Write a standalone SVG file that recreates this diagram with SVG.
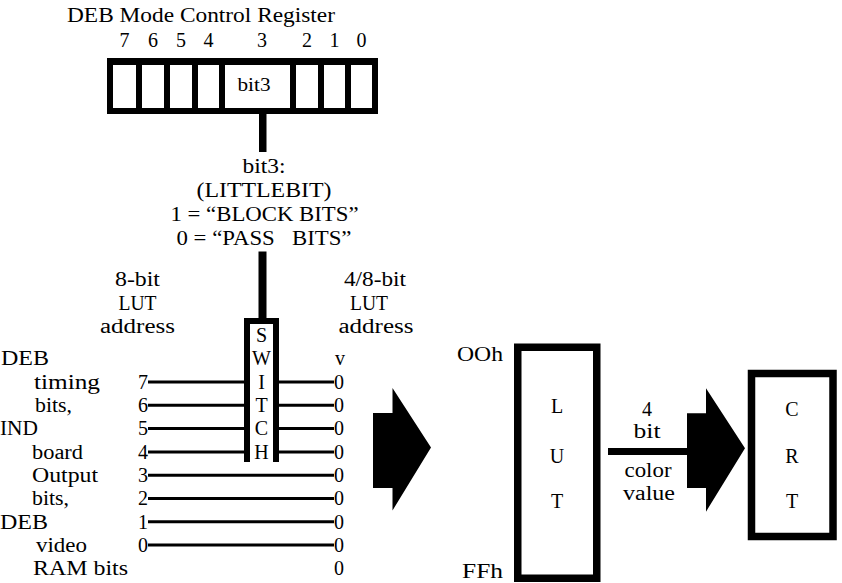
<svg xmlns="http://www.w3.org/2000/svg" width="842" height="583" viewBox="0 0 842 583">
<style>
text{font-family:"Liberation Serif","Times New Roman",serif;font-size:20px;fill:#000}
.c{text-anchor:middle}
.e{text-anchor:end}
.sm{font-size:18px}
.big{font-size:21px}
.pre{white-space:pre}
.wire{stroke:#000;stroke-width:3;fill:none}
.thick{stroke:#000;fill:none}
.box{fill:#fff;stroke:#000;stroke-width:7.5}
</style>
<rect width="842" height="583" fill="#fff"/>

<g id="register">
  <text x="67" y="22" textLength="268" lengthAdjust="spacingAndGlyphs">DEB Mode Control Register</text>
  <g class="c">
    <text x="124.5" y="47">7</text>
    <text x="153" y="47">6</text>
    <text x="181" y="47">5</text>
    <text x="208.5" y="47">4</text>
    <text x="262" y="47">3</text>
    <text x="307" y="47">2</text>
    <text x="334.5" y="47">1</text>
    <text x="361.5" y="47">0</text>
  </g>
  <rect x="107" y="58" width="271" height="56" fill="#000"/>
  <g fill="#fff">
    <rect x="113" y="65" width="23" height="43"/>
    <rect x="142" y="65" width="22" height="43"/>
    <rect x="170" y="65" width="22" height="43"/>
    <rect x="198" y="65" width="21" height="43"/>
    <rect x="225" y="65" width="65" height="43"/>
    <rect x="296" y="65" width="22" height="43"/>
    <rect x="324" y="65" width="21" height="43"/>
    <rect x="351" y="65" width="21" height="43"/>
  </g>
  <text class="c sm" x="254" y="91" textLength="33" lengthAdjust="spacingAndGlyphs">bit3</text>
</g>

<g id="bit3-label">
  <text class="c" x="264" y="173" textLength="43" lengthAdjust="spacingAndGlyphs">bit3:</text>
  <text class="c" x="264" y="197" textLength="135" lengthAdjust="spacingAndGlyphs">(LITTLEBIT)</text>
  <text class="c pre" x="264.5" y="221" textLength="188" lengthAdjust="spacingAndGlyphs">1 = “BLOCK BITS”</text>
  <text class="c pre" x="264" y="245" textLength="175" lengthAdjust="spacingAndGlyphs">0 = “PASS   BITS”</text>
</g>

<g id="switch">
  <path class="thick" stroke-width="6" d="M247,462 V321 H276 V462"/>
  <g class="c big">
    <text x="261.5" y="342">S</text>
    <text x="261.5" y="365">W</text>
    <text x="261.5" y="388.5">I</text>
    <text x="261.5" y="412">T</text>
    <text x="261.5" y="435">C</text>
    <text x="261.5" y="458.5">H</text>
  </g>
</g>

<g id="in-labels">
  <text class="c" x="137.5" y="286" textLength="45" lengthAdjust="spacingAndGlyphs">8-bit</text>
  <text class="c" x="137.5" y="310" textLength="38" lengthAdjust="spacingAndGlyphs">LUT</text>
  <text class="c" x="137.5" y="333" textLength="75" lengthAdjust="spacingAndGlyphs">address</text>
  <text x="1" y="365" textLength="48" lengthAdjust="spacingAndGlyphs">DEB</text>
  <text x="34" y="388.5" textLength="66" lengthAdjust="spacingAndGlyphs">timing</text>
  <text x="35" y="412" textLength="37" lengthAdjust="spacingAndGlyphs">bits,</text>
  <text x="0" y="435" textLength="38" lengthAdjust="spacingAndGlyphs">IND</text>
  <text x="32" y="458.5" textLength="51" lengthAdjust="spacingAndGlyphs">board</text>
  <text x="32" y="482" textLength="66" lengthAdjust="spacingAndGlyphs">Output</text>
  <text x="32" y="505" textLength="37" lengthAdjust="spacingAndGlyphs">bits,</text>
  <text x="0" y="528.5" textLength="48" lengthAdjust="spacingAndGlyphs">DEB</text>
  <text x="36" y="552" textLength="51" lengthAdjust="spacingAndGlyphs">video</text>
  <text x="33" y="575" textLength="95" lengthAdjust="spacingAndGlyphs">RAM bits</text>
  <g class="e">
    <text x="148" y="388.5">7</text>
    <text x="148" y="412">6</text>
    <text x="148" y="435">5</text>
    <text x="148" y="458.5">4</text>
    <text x="148" y="482">3</text>
    <text x="148" y="505">2</text>
    <text x="148" y="528.5">1</text>
    <text x="148" y="552">0</text>
  </g>
</g>

<g id="out-labels">
  <text class="c" x="375" y="286" textLength="62" lengthAdjust="spacingAndGlyphs">4/8-bit</text>
  <text class="c" x="369" y="310" textLength="38" lengthAdjust="spacingAndGlyphs">LUT</text>
  <text class="c" x="376" y="333" textLength="75" lengthAdjust="spacingAndGlyphs">address</text>
  <text x="335" y="365">v</text>
  <text x="334" y="388.5">0</text>
  <text x="334" y="412">0</text>
  <text x="334" y="435">0</text>
  <text x="334" y="458.5">0</text>
  <text x="334" y="482">0</text>
  <text x="334" y="505">0</text>
  <text x="334" y="528.5">0</text>
  <text x="334" y="552">0</text>
  <text x="334" y="575">0</text>
</g>

<g id="lut">
  <rect class="box" x="517.75" y="347.25" width="79" height="231"/>
  <text class="e" x="503" y="361" textLength="46" lengthAdjust="spacingAndGlyphs">OOh</text>
  <text class="e" x="503" y="578" textLength="41" lengthAdjust="spacingAndGlyphs">FFh</text>
  <g class="c big">
    <text x="557" y="413">L</text>
    <text x="557" y="463">U</text>
    <text x="557" y="508">T</text>
  </g>
</g>

<g id="crt">
  <rect class="box" x="751.5" y="373.5" width="81.5" height="163" stroke-width="7"/>
  <g class="c big">
    <text x="792" y="416">C</text>
    <text x="792" y="463">R</text>
    <text x="792" y="508">T</text>
  </g>
</g>

<g id="connectors">
  <rect x="259" y="113" width="7.5" height="39" fill="#000"/>
  <rect x="258.5" y="251.5" width="8" height="67" fill="#000"/>
  <g class="wire">
    <path d="M148,382 H244 M279,382 H334"/>
    <path d="M148,405.3 H244 M279,405.3 H334"/>
    <path d="M148,428.6 H244 M279,428.6 H334"/>
    <path d="M148,451.9 H244 M279,451.9 H334"/>
    <path d="M148,475.2 H334"/>
    <path d="M148,498.5 H334"/>
    <path d="M148,521.8 H334"/>
    <path d="M148,545.1 H334"/>
  </g>
  <polygon points="373,413 392.5,413 392.5,388 431,447.5 392.5,510.5 392.5,488 373,488" fill="#000"/>
  <rect x="608" y="448" width="80" height="7" fill="#000"/>
  <polygon points="687,413.3 706,413.3 706,388.3 745,448.3 706,511.7 706,488 687,488" fill="#000"/>
  <g class="c">
    <text x="647" y="416">4</text>
    <text x="647" y="438" textLength="27" lengthAdjust="spacingAndGlyphs">bit</text>
    <text x="648" y="477" textLength="47" lengthAdjust="spacingAndGlyphs">color</text>
    <text x="649" y="499.5" textLength="52" lengthAdjust="spacingAndGlyphs">value</text>
  </g>
</g>
</svg>
